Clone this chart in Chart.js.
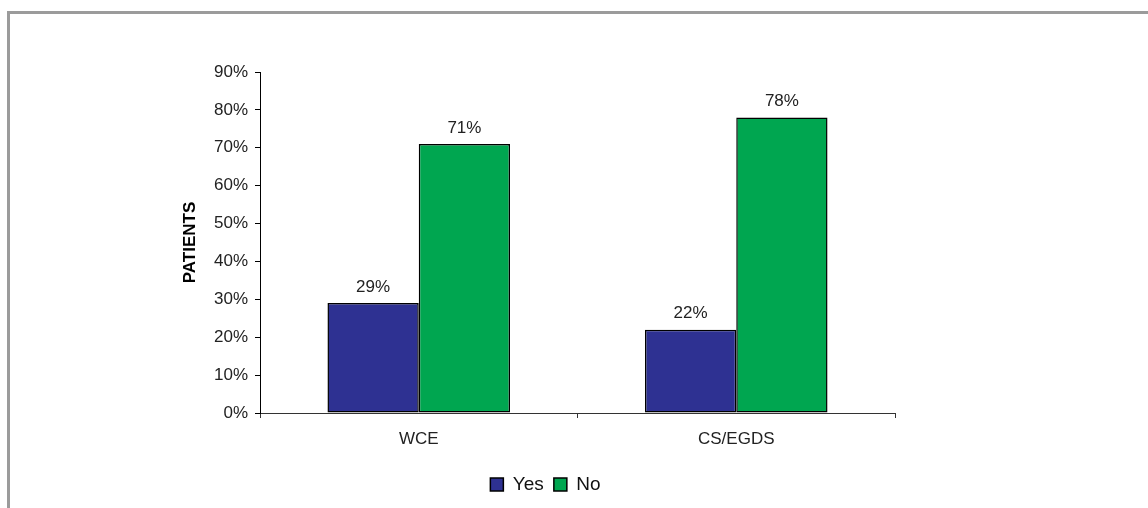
<!DOCTYPE html>
<html>
<head>
<meta charset="utf-8">
<script src="https://cdn.jsdelivr.net/npm/chart.js@4.4.0/dist/chart.umd.min.js"></script>
<style>
  body { margin: 0; background: #fff; overflow: hidden; }
  #frame { position: absolute; left: 7px; top: 11px; width: 1200px; height: 600px; border: 3px solid #9b9b9b; }
  #chart { position: absolute; left: 0; top: 0; }
</style>
</head>
<body>
<div id="frame"></div>
<canvas id="chart" width="1148" height="508"></canvas>
<script>
// ***************************************************************************************************
// Dados do gráfico

const categories = ["WCE", "CS/EGDS"];
const yesValues = [29, 22];
const noValues = [71, 78];
const yTicks = [0, 10, 20, 30, 40, 50, 60, 70, 80, 90];

// ***************************************************************************************************

const FONT = "'Liberation Sans', Arial, sans-serif";

// rótulos de valor em cima de cada barra
const barLabels = {
    id: 'barLabels',
    afterDatasetsDraw(chart) {
        const ctx = chart.ctx;
        ctx.save();
        ctx.font = "17px " + FONT;
        ctx.fillStyle = "#222";
        ctx.textAlign = "center";
        ctx.textBaseline = "middle";
        chart.data.datasets.forEach((ds, i) => {
            chart.getDatasetMeta(i).data.forEach((bar, j) => {
                ctx.fillText(ds.data[j] + "%", bar.x, bar.y - 16);
            });
        });
        ctx.restore();
    }
};

const ctx = document.getElementById('chart').getContext('2d');

new Chart(ctx, {
    type: 'bar',
    data: {
        labels: categories,
        datasets: [
            { label: 'Yes', data: yesValues, backgroundColor: '#2e3192', borderColor: '#000', borderWidth: 1.5, borderSkipped: false },
            { label: 'No', data: noValues, backgroundColor: '#00a650', borderColor: '#000', borderWidth: 1.5, borderSkipped: false }
        ]
    },
    options: {
        responsive: false,
        animation: false,
        devicePixelRatio: 1,
        layout: { padding: { left: 196, right: 253, top: 72, bottom: 4 } },
        datasets: { bar: { categoryPercentage: 0.575, barPercentage: 1 } },
        scales: {
            x: {
                afterFit: (s) => { s.height = 52; },
                grid: { offset: true, drawOnChartArea: false, tickLength: 5, color: '#333' },
                border: { color: '#333', width: 1 },
                ticks: { color: '#222', padding: 11, font: { family: FONT, size: 17 } }
            },
            y: {
                min: 0,
                max: 90,
                afterFit: (s) => { s.width = 64; },
                afterBuildTicks: (s) => { s.ticks = yTicks.map(v => ({ value: v })); },
                grid: { drawOnChartArea: false, tickLength: 5, color: '#000' },
                border: { color: '#000', width: 1 },
                ticks: { color: '#222', padding: 7, font: { family: FONT, size: 17 }, callback: (v) => v + '%' },
                title: { display: true, text: 'PATIENTS', color: '#000', padding: { top: -16, bottom: 0 }, font: { family: FONT, size: 17, weight: 'bold' } }
            }
        },
        plugins: {
            legend: {
                position: 'bottom',
                labels: { boxWidth: 13, boxHeight: 13, padding: 10, color: '#111', font: { family: FONT, size: 19 } }
            },
            tooltip: { enabled: false }
        }
    },
    plugins: [barLabels]
});
</script>
</body>
</html>
